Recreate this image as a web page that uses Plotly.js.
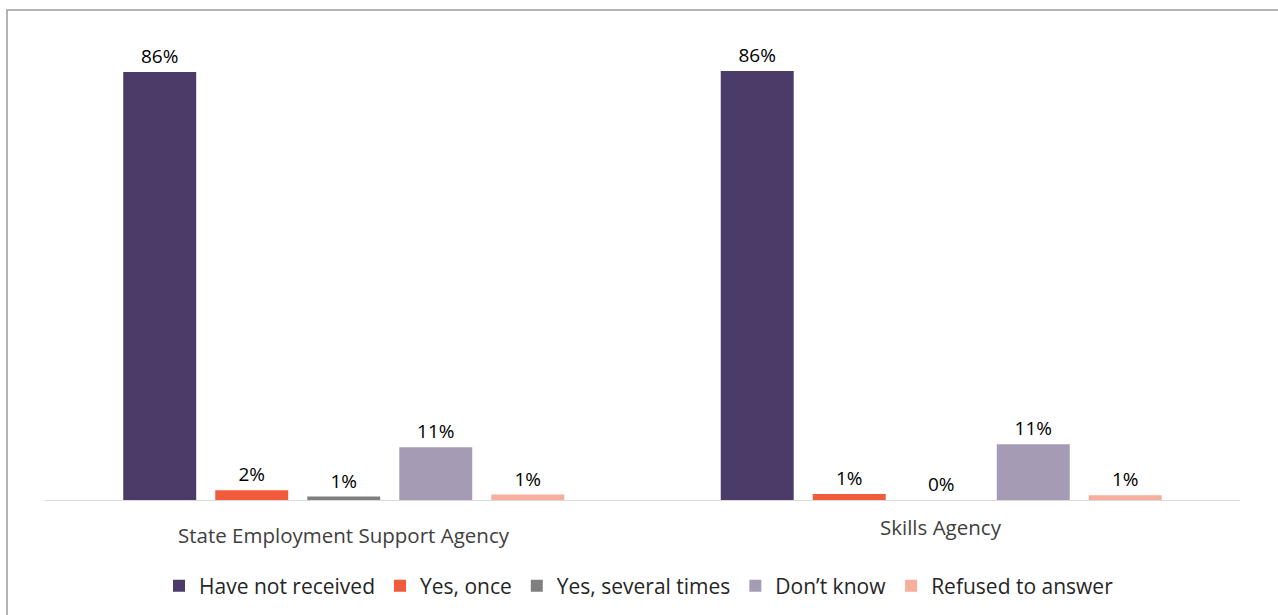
<!DOCTYPE html>
<html>
<head>
<meta charset="utf-8">
<script src="https://cdn.plot.ly/plotly-3.0.1.min.js"></script>
<style>
html,body{margin:0;padding:0;background:#fff;}
#chart{width:1278px;height:615px;}
</style>
</head>
<body>
<div id="chart"></div>
<script>
const categories = ["State Employment Support Agency", "Skills Agency"];
const seriesNames = ["Have not received", "Yes, once", "Yes, several times", "Don’t know", "Refused to answer"];
const haveNotReceived = [86.0, 86.2];
const yesOnce = [1.95, 1.2];
const yesSeveral = [0.7, 0.0];
const dontKnow = [10.6, 11.2];
const refused = [1.1, 0.95];
const colors = ["#4B3B68", "#F15B3C", "#7F7F7F", "#A69BB5", "#F8AE9D"];

const seriesValues = [haveNotReceived, yesOnce, yesSeveral, dontKnow, refused];

const traces = seriesNames.map((name, i) => ({
  type: "bar",
  name: name,
  x: categories,
  y: seriesValues[i],
  marker: { color: colors[i] },
  text: seriesValues[i].map(v => Math.round(v) + "%"),
  textposition: "outside",
  cliponaxis: false,
  textfont: { family: "Open Sans, sans-serif", size: 19, color: "#000000" },
  hoverinfo: "name+y"
}));

const plotLeft = 45, plotRight = 1240, plotTop = 52, plotBottom = 500;
const pw = plotRight - plotLeft, ph = plotBottom - plotTop;
const px = v => (v - plotLeft) / pw;
const py = v => (plotBottom - v) / ph;

const layout = {
  width: 1278,
  height: 615,
  margin: { l: plotLeft, r: 1278 - plotRight, t: plotTop, b: 615 - plotBottom, pad: 0, autoexpand: false },
  paper_bgcolor: "#ffffff",
  plot_bgcolor: "#ffffff",
  barmode: "group",
  bargap: 0.23,
  bargroupgap: 0.207,
  showlegend: true,
  legend: {
    orientation: "h",
    xref: "container",
    yref: "container",
    x: 0.5, xanchor: "center",
    y: 1 - 586 / 615, yanchor: "middle",
    font: { family: "Open Sans, sans-serif", size: 21, color: "#262626" },
    itemwidth: 30,
    traceorder: "normal"
  },
  xaxis: {
    type: "category",
    range: [-0.5, 1.5],
    showticklabels: false,
    ticks: "",
    showline: true,
    linecolor: "#d9d9d9",
    linewidth: 1,
    showgrid: false,
    zeroline: false,
    fixedrange: true
  },
  yaxis: {
    range: [0, 90],
    visible: false,
    showgrid: false,
    zeroline: false,
    fixedrange: true
  },
  annotations: [
    { xref: "x", yref: "paper", x: categories[0], y: 0, yanchor: "middle", yshift: -35,
      text: categories[0], showarrow: false,
      font: { family: "Open Sans, sans-serif", size: 20.5, color: "#404040" } },
    { xref: "x", yref: "paper", x: categories[1], y: 0, yanchor: "middle", yshift: -27,
      text: categories[1], showarrow: false,
      font: { family: "Open Sans, sans-serif", size: 20.5, color: "#404040" } }
  ],
  shapes: [
    { type: "rect", xref: "paper", yref: "paper",
      x0: px(7), x1: px(1300), y0: py(640), y1: py(10),
      line: { color: "#b3b3b3", width: 2 }, fillcolor: "rgba(0,0,0,0)", layer: "below" }
  ]
};

Plotly.newPlot("chart", traces, layout, { displayModeBar: false, staticPlot: true });
</script>
</body>
</html>
